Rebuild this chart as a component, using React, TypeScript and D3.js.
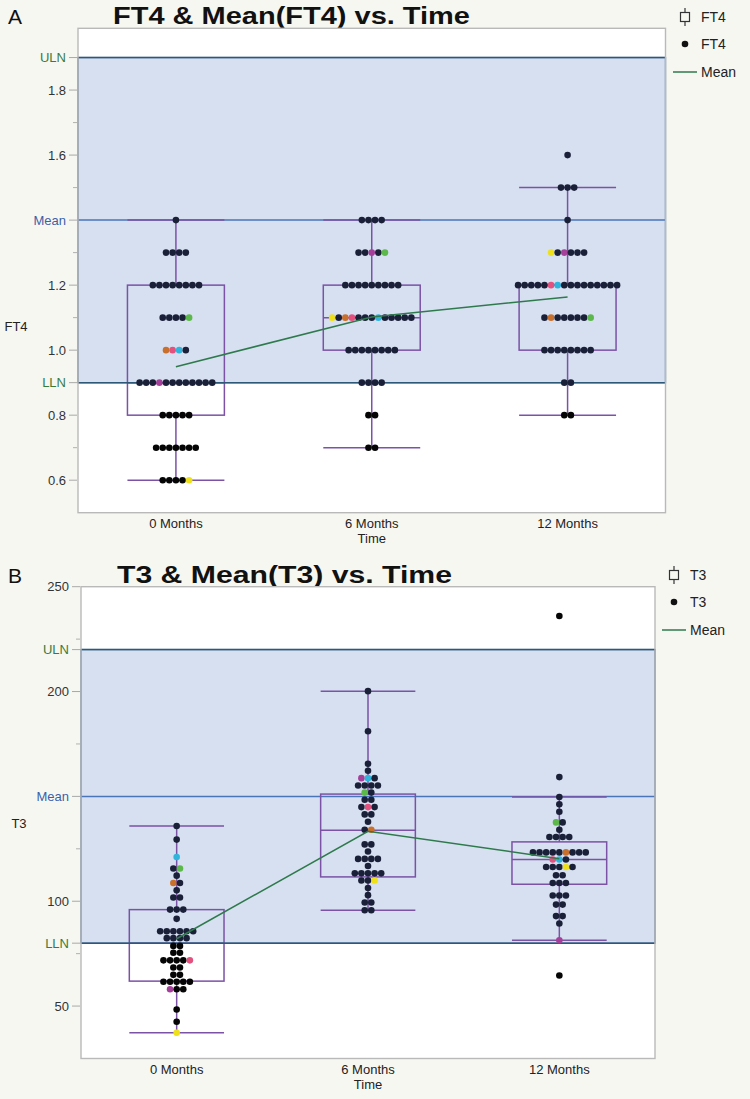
import React, { useEffect } from "react";
import * as d3 from "d3";

// ---------------- data ----------------
const TIMES = ["0 Months", "6 Months", "12 Months"];

// FT4: values on a 0.1 grid, dots per level for each time point
const FT4_LEVELS = [1.6, 1.5, 1.4, 1.3, 1.2, 1.1, 1.0, 0.9, 0.8, 0.7, 0.6];
const FT4_COUNTS_0M = [0, 0, 1, 4, 8, 5, 4, 12, 5, 7, 5];
const FT4_COUNTS_6M = [0, 0, 4, 5, 9, 13, 8, 4, 2, 2, 0];
const FT4_COUNTS_12M = [1, 3, 1, 6, 16, 8, 8, 2, 2, 0, 0];
// [time index, value, slot in row, colour key]
const FT4_HIGHLIGHTS: [number, number, number, string][] = [
  [0, 1.1, 4, "green"], [0, 1.0, 0, "orange"], [0, 1.0, 1, "pink"], [0, 1.0, 2, "cyan"],
  [0, 0.9, 3, "magenta"], [0, 0.6, 4, "yellow"],
  [1, 1.3, 2, "magenta"], [1, 1.3, 4, "green"], [1, 1.1, 0, "yellow"], [1, 1.1, 2, "orange"],
  [1, 1.1, 3, "pink"], [1, 1.1, 7, "cyan"],
  [2, 1.3, 0, "yellow"], [2, 1.3, 2, "magenta"], [2, 1.2, 5, "pink"], [2, 1.2, 6, "cyan"],
  [2, 1.1, 1, "orange"], [2, 1.1, 7, "green"],
];
const FT4_BOX_LOW = [0.6, 0.7, 0.8];
const FT4_BOX_Q1 = [0.8, 1.0, 1.0];
const FT4_BOX_MED = [0.9, 1.1, 1.2];
const FT4_BOX_Q3 = [1.2, 1.2, 1.2];
const FT4_BOX_HIGH = [1.4, 1.4, 1.5];
const FT4_REF_NAMES = ["ULN", "Mean", "LLN"];
const FT4_REF_VALUES = [1.9, 1.4, 0.9];
const FT4_TICKS = [0.6, 0.8, 1.0, 1.2, 1.6, 1.8];
const FT4_MINOR = [0.7, 1.1, 1.3, 1.5, 1.7];

// T3: beeswarm rows (value, dots in row) for each time point
const T3_0M_VALUES = [135.9, 129.4, 121.1, 115.6, 112.2, 108.7, 105.2, 101.8, 96.0, 91.6, 85.7, 82.4, 78.7, 75.4, 71.8, 68.4, 64.9, 61.6, 58.0, 48.4, 42.5, 37.3];
const T3_0M_COUNTS = [1, 1, 1, 2, 1, 2, 1, 2, 3, 1, 6, 4, 2, 2, 5, 2, 2, 5, 3, 1, 1, 1];
const T3_6M_VALUES = [200.2, 181.1, 165.6, 162.2, 158.7, 155.2, 151.8, 148.4, 144.9, 141.4, 137.9, 134.1, 127.1, 123.7, 120.2, 116.8, 113.3, 109.9, 106.3, 102.9, 99.4, 95.7];
const T3_6M_COUNTS = [1, 1, 1, 1, 3, 4, 2, 2, 3, 2, 1, 2, 2, 1, 4, 1, 5, 3, 1, 1, 2, 2];
const T3_12M_VALUES = [236.0, 159.2, 149.7, 146.2, 142.7, 137.6, 134.1, 130.6, 123.3, 119.9, 116.3, 112.4, 108.7, 102.7, 98.4, 92.9, 89.4, 81.4, 64.6];
const T3_12M_COUNTS = [1, 1, 1, 1, 1, 2, 1, 4, 9, 3, 5, 2, 3, 3, 2, 2, 1, 1, 1];
const T3_HIGHLIGHTS: [number, number, number, string][] = [
  [0, 121.1, 0, "cyan"], [0, 115.6, 1, "green"], [0, 108.7, 0, "orange"], [0, 71.8, 4, "pink"],
  [0, 58.0, 0, "magenta"], [0, 37.3, 0, "yellow"],
  [1, 158.7, 0, "magenta"], [1, 158.7, 1, "cyan"], [1, 151.8, 0, "green"], [1, 144.9, 1, "pink"],
  [1, 134.1, 1, "orange"], [1, 109.9, 2, "yellow"],
  [2, 137.6, 0, "green"], [2, 123.3, 5, "orange"], [2, 119.9, 0, "pink"], [2, 119.9, 1, "cyan"],
  [2, 116.3, 3, "yellow"], [2, 81.4, 0, "magenta"],
];
const T3_BOX_LOW = [37.3, 95.7, 81.4];
const T3_BOX_Q1 = [61.9, 111.6, 108.1];
const T3_BOX_MED = [80.0, 133.8, 119.9];
const T3_BOX_Q3 = [96.0, 151.1, 128.3];
const T3_BOX_HIGH = [135.9, 200.2, 149.7];
const T3_REF_NAMES = ["ULN", "Mean", "LLN"];
const T3_REF_VALUES = [220, 150, 80];
const T3_TICKS = [50, 100, 200, 250];
const T3_MINOR = [75, 125, 175, 225];

// ---------------- styles ----------------
const COLORS: Record<string, string> = {
  green: "#5cb84a",
  orange: "#c9702c",
  pink: "#e3527f",
  cyan: "#30b4dc",
  magenta: "#a5409a",
  yellow: "#efe01c",
};
const FONT = "'Liberation Sans', Arial, Helvetica, sans-serif";
const BG = "#f7f7f2";
const PURPLE = "#7b52a6";
const SHADE = "#d6e0f1";
const SHADE_EDGE = "#3c6597";
const REF_COL = ["#2e5878", "#4a75b8", "#2e5878"];
const REF_LABEL_COL = ["#3a7b3a", "#3d5fa8", "#3a7b3a"];
const MEAN_COL = "#2f7a4c";

type Row = { value: number; count: number };

type PanelProps = {
  letter: string;
  title: string;
  titleX: number;
  titleY: number;
  titleLen: number;
  yLabel: string;
  yLabelX: number;
  yLabelY: number;
  left: number;
  right: number;
  top: number;
  bottom: number;
  domain: [number, number];
  rows: Row[][];
  highlights: [number, number, number, string][];
  low: number[];
  q1: number[];
  med: number[];
  q3: number[];
  high: number[];
  refNames: string[];
  refValues: number[];
  ticks: number[];
  minor: number[];
  tickFormat: (v: number) => string;
  legendX: number;
  legendY: number;
  legendName: string;
};

function Panel(p: PanelProps) {
  const x = d3.scaleBand<string>().domain(TIMES).range([p.left, p.right]).padding(0);
  const y = d3.scaleLinear().domain(p.domain).range([p.bottom, p.top]);
  const bw = x.bandwidth();
  const boxW = bw * 0.495;
  const r = 3.3;
  const spacing = 6.6;
  const uln = p.refValues[0];
  const lln = p.refValues[2];

  const means = p.rows.map((rs) => {
    const total = d3.sum(rs, (d) => d.count);
    return d3.sum(rs, (d) => d.value * d.count) / total;
  });

  const dots: { cx: number; cy: number; fill: string; key: string }[] = [];
  p.rows.forEach((rs, gi) => {
    const cx0 = (x(TIMES[gi]) as number) + bw / 2;
    rs.forEach((row) => {
      for (let i = 0; i < row.count; i++) {
        const h = p.highlights.find(
          (hh) => hh[0] === gi && Math.abs(hh[1] - row.value) < 1e-6 && hh[2] === i
        );
        const inside = row.value <= uln + 1e-9 && row.value >= lln - 1e-9;
        const fill = h ? COLORS[h[3]] : inside ? "#1b2039" : "#050505";
        dots.push({
          cx: cx0 + (i - (row.count - 1) / 2) * spacing,
          cy: y(row.value),
          fill,
          key: `${gi}-${row.value}-${i}`,
        });
      }
    });
  });

  const meanLine = d3
    .line<number>()
    .x((_, i) => (x(TIMES[i]) as number) + bw / 2)
    .y((d) => y(d));

  const frameW = p.right - p.left;
  const tickEnd = p.left - 1;
  const labelX = p.left - 12;

  return (
    <g fontFamily={FONT}>
      <text x={8} y={p.titleY} fontSize={21} fill="#111">{p.letter}</text>
      <text
        x={p.titleX}
        y={p.titleY}
        fontSize={23}
        fontWeight="bold"
        fill="#111"
        textLength={p.titleLen}
        lengthAdjust="spacingAndGlyphs"
      >
        {p.title}
      </text>

      {/* plot background */}
      <rect x={p.left} y={p.top} width={frameW} height={p.bottom - p.top} fill="#ffffff" />
      <rect x={p.left} y={y(uln)} width={frameW} height={y(lln) - y(uln)} fill={SHADE} />
      {/* mean reference line sits beneath the boxes */}
      <line x1={p.left} x2={p.right} y1={y(p.refValues[1])} y2={y(p.refValues[1])} stroke={REF_COL[1]} strokeWidth={1.5} />

      {/* boxes */}
      {TIMES.map((t, gi) => {
        const cx = (x(t) as number) + bw / 2;
        const x0 = cx - boxW / 2;
        return (
          <g key={"box" + gi} stroke={PURPLE} strokeWidth={1.5} fill="none">
            <line x1={cx} x2={cx} y1={y(p.high[gi])} y2={y(p.q3[gi])} />
            <line x1={cx} x2={cx} y1={y(p.q1[gi])} y2={y(p.low[gi])} />
            <line x1={x0} x2={x0 + boxW} y1={y(p.high[gi])} y2={y(p.high[gi])} />
            <line x1={x0} x2={x0 + boxW} y1={y(p.low[gi])} y2={y(p.low[gi])} />
            <rect x={x0} y={y(p.q3[gi])} width={boxW} height={y(p.q1[gi]) - y(p.q3[gi])} />
            <line x1={x0} x2={x0 + boxW} y1={y(p.med[gi])} y2={y(p.med[gi])} />
          </g>
        );
      })}

      {/* limit lines and shaded-band edges on top of the boxes */}
      <rect
        x={p.left}
        y={y(uln)}
        width={frameW}
        height={y(lln) - y(uln)}
        fill="none"
        stroke={SHADE_EDGE}
        strokeWidth={1.3}
      />
      {[0, 2].map((i) => (
        <line
          key={"ref" + i}
          x1={p.left}
          x2={p.right}
          y1={y(p.refValues[i])}
          y2={y(p.refValues[i])}
          stroke={REF_COL[i]}
          strokeWidth={1.5}
        />
      ))}

      {/* dots */}
      {dots.map((d) => (
        <circle key={d.key} cx={d.cx} cy={d.cy} r={r} fill={d.fill} />
      ))}

      {/* mean line */}
      <path d={meanLine(means) || ""} fill="none" stroke={MEAN_COL} strokeWidth={1.5} />

      {/* frame */}
      <rect x={p.left} y={p.top} width={frameW} height={p.bottom - p.top} fill="none" stroke="#b9b9b9" strokeWidth={1.4} />

      {/* y axis */}
      {p.ticks.map((v) => (
        <g key={"t" + v}>
          <line x1={tickEnd - 8} x2={tickEnd} y1={y(v)} y2={y(v)} stroke="#a8a8a8" strokeWidth={1} />
          <text x={labelX} y={y(v)} dy="0.35em" textAnchor="end" fontSize={13} fill="#333">
            {p.tickFormat(v)}
          </text>
        </g>
      ))}
      {p.minor.map((v) => (
        <line key={"m" + v} x1={tickEnd - 4} x2={tickEnd} y1={y(v)} y2={y(v)} stroke="#b0b0b0" strokeWidth={1} />
      ))}
      {p.refValues.map((v, i) => (
        <g key={"rl" + i}>
          <line x1={tickEnd - 8} x2={tickEnd} y1={y(v)} y2={y(v)} stroke="#a8a8a8" strokeWidth={1} />
          <text x={labelX} y={y(v)} dy="0.35em" textAnchor="end" fontSize={13} fill={REF_LABEL_COL[i]}>
            {p.refNames[i]}
          </text>
        </g>
      ))}
      <text x={p.yLabelX} y={p.yLabelY} dy="0.35em" textAnchor="middle" fontSize={13} fill="#222">
        {p.yLabel}
      </text>

      {/* x axis */}
      {TIMES.map((t) => (
        <text key={"x" + t} x={(x(t) as number) + bw / 2} y={p.bottom + 15} textAnchor="middle" fontSize={13} fill="#222">
          {t}
        </text>
      ))}
      <text x={(p.left + p.right) / 2} y={p.bottom + 30} textAnchor="middle" fontSize={13} fill="#222">
        Time
      </text>

      {/* legend */}
      <g>
        <line x1={p.legendX} x2={p.legendX} y1={p.legendY - 9} y2={p.legendY + 9} stroke="#333" strokeWidth={1.2} />
        <rect x={p.legendX - 4.5} y={p.legendY - 4.5} width={9} height={9} fill={BG} stroke="#333" strokeWidth={1.2} />
        <text x={p.legendX + 16} y={p.legendY} dy="0.35em" fontSize={14} fill="#222">{p.legendName}</text>
        <circle cx={p.legendX} cy={p.legendY + 27} r={3.3} fill="#111" />
        <text x={p.legendX + 16} y={p.legendY + 27} dy="0.35em" fontSize={14} fill="#222">{p.legendName}</text>
        <line x1={p.legendX - 12} x2={p.legendX + 12} y1={p.legendY + 55} y2={p.legendY + 55} stroke={MEAN_COL} strokeWidth={1.5} />
        <text x={p.legendX + 16} y={p.legendY + 55} dy="0.35em" fontSize={14} fill="#222">Mean</text>
      </g>
    </g>
  );
}

function toRows(values: number[], counts: number[]): Row[] {
  return values.map((v, i) => ({ value: v, count: counts[i] })).filter((r) => r.count > 0);
}

export default function App() {
  useEffect(() => {
    document.body.style.margin = "0";
    document.body.style.background = BG;
  }, []);

  const ft4Rows = [FT4_COUNTS_0M, FT4_COUNTS_6M, FT4_COUNTS_12M].map((c) => toRows(FT4_LEVELS, c));
  const t3Rows = [
    toRows(T3_0M_VALUES, T3_0M_COUNTS),
    toRows(T3_6M_VALUES, T3_6M_COUNTS),
    toRows(T3_12M_VALUES, T3_12M_COUNTS),
  ];

  return (
    <svg width={750} height={1099} style={{ position: "absolute", left: 0, top: 0, background: BG }}>
      <rect x={0} y={0} width={750} height={1099} fill={BG} />
      <Panel
        letter="A"
        title="FT4 & Mean(FT4) vs. Time"
        titleX={113}
        titleY={24}
        titleLen={357}
        yLabel="FT4"
        yLabelX={16}
        yLabelY={326}
        left={78}
        right={665.5}
        top={28.3}
        bottom={512.7}
        domain={[0.5, 1.99]}
        rows={ft4Rows}
        highlights={FT4_HIGHLIGHTS}
        low={FT4_BOX_LOW}
        q1={FT4_BOX_Q1}
        med={FT4_BOX_MED}
        q3={FT4_BOX_Q3}
        high={FT4_BOX_HIGH}
        refNames={FT4_REF_NAMES}
        refValues={FT4_REF_VALUES}
        ticks={FT4_TICKS}
        minor={FT4_MINOR}
        tickFormat={d3.format(".1f")}
        legendX={685}
        legendY={17}
        legendName="FT4"
      />
      <Panel
        letter="B"
        title="T3 & Mean(T3) vs. Time"
        titleX={117}
        titleY={583}
        titleLen={335}
        yLabel="T3"
        yLabelX={19}
        yLabelY={823}
        left={81}
        right={655}
        top={586.7}
        bottom={1058.5}
        domain={[25, 250]}
        rows={t3Rows}
        highlights={T3_HIGHLIGHTS}
        low={T3_BOX_LOW}
        q1={T3_BOX_Q1}
        med={T3_BOX_MED}
        q3={T3_BOX_Q3}
        high={T3_BOX_HIGH}
        refNames={T3_REF_NAMES}
        refValues={T3_REF_VALUES}
        ticks={T3_TICKS}
        minor={T3_MINOR}
        tickFormat={d3.format("d")}
        legendX={674}
        legendY={575}
        legendName="T3"
      />
    </svg>
  );
}
